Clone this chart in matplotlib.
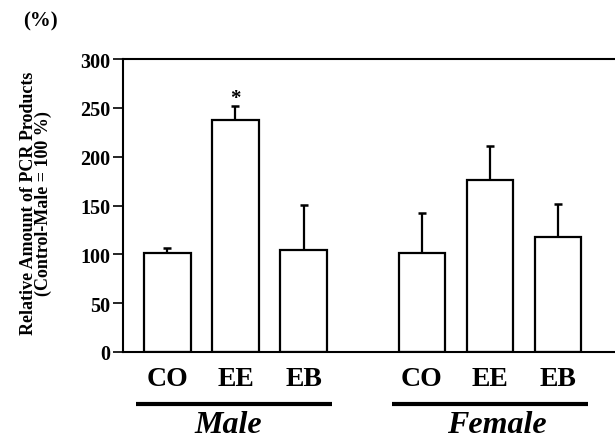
import numpy as np
import matplotlib
matplotlib.use('Agg')
import matplotlib.pyplot as plt

plt.rcParams['font.family'] = ['Liberation Serif', 'DejaVu Serif']

# data
groups = ['Male', 'Female']
treatments = ['CO', 'EE', 'EB']
male_vals = [101, 238, 104]
male_err = [5, 14, 47]
female_vals = [101, 176, 118]
female_err = [41, 35, 34]
yticks = [0, 50, 100, 150, 200, 250, 300]

vals = male_vals + female_vals
errs = male_err + female_err
xpos = np.array([0, 1, 2, 3.74, 4.74, 5.74])

fig = plt.figure(figsize=(6.15, 4.39), dpi=100)
ax = fig.add_axes([0.2, 0.196, 0.8, 0.667])

ax.bar(xpos, vals, width=0.68, color='white', edgecolor='black', linewidth=1.6, zorder=2)
ax.errorbar(xpos, vals, yerr=[np.zeros(len(errs)), errs], fmt='none', ecolor='black',
            elinewidth=1.6, capsize=3, capthick=1.8, zorder=1)

# significance mark on male EE
ax.text(xpos[1], vals[1] + errs[1] + 3, '*', ha='center', va='baseline', fontsize=15, fontweight='bold')

ax.set_xlim(-0.654, 6.58)
ax.set_ylim(0, 300)
ax.set_yticks(yticks)
ax.set_yticklabels([str(t) for t in yticks], fontsize=14.5, fontweight='bold')
ax.tick_params(axis='y', length=7, width=1.2, pad=2)
ax.set_xticks(xpos)
ax.set_xticklabels(treatments * 2, fontsize=20, fontweight='bold')
ax.tick_params(axis='x', length=0, pad=10)

for s in ['left', 'top', 'bottom']:
    ax.spines[s].set_linewidth(1.5)
ax.spines['right'].set_visible(False)

# group underlines and names
for (x0, x1), xname, name in zip([(-0.46, 2.42), (3.30, 6.18)], [0.9, 4.85], groups):
    ax.plot([x0, x1], [-53, -53], color='black', linewidth=3, clip_on=False, solid_capstyle='butt')
    ax.text(xname, -82, name, ha='center', va='baseline', fontsize=23,
            fontweight='bold', fontstyle='italic')

ax.set_ylabel('Relative Amount of PCR Products\n(Control-Male = 100 %)', fontsize=13,
              fontweight='bold', linespacing=0.8)
ax.yaxis.set_label_coords(-0.144, 0.51)

fig.text(0.065, 0.952, '(%)', ha='center', va='center', fontsize=15, fontweight='bold')

fig.savefig('out.png', dpi=100)
